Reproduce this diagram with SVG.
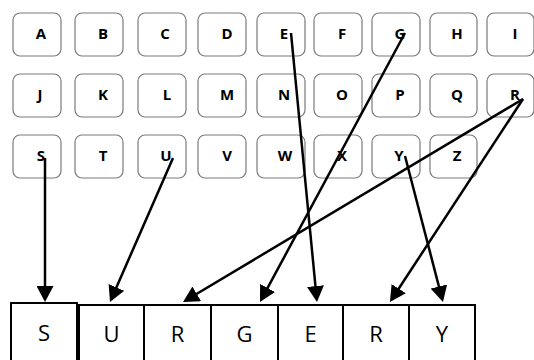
<svg xmlns="http://www.w3.org/2000/svg" width="534" height="360" viewBox="0 0 534 360">
  <style>
    .key rect { fill: #ffffff; stroke: #7a7a7a; stroke-width: 1.2; }
    .key text { font-family: "Open Sans", "DejaVu Sans", sans-serif; font-weight: bold; font-size: 15px; fill: #000000; text-anchor: middle; }
    .cell rect { fill: #ffffff; stroke: #000000; stroke-width: 2; }
    .cell text { font-family: "Open Sans", "DejaVu Sans", sans-serif; font-size: 22px; fill: #000000; text-anchor: middle; }
    .links line { stroke: #000000; stroke-width: 2.5; marker-end: url(#head); }
  </style>
  <defs>
    <marker id="head" markerUnits="userSpaceOnUse" markerWidth="17" markerHeight="17" refX="13" refY="8.5" orient="auto">
      <path d="M0,0 L16,8.5 L0,17 z" fill="#000000"/>
    </marker>
  </defs>
  <rect width="534" height="360" fill="#ffffff"/>

  <!-- keyboard: row 1 -->
  <g id="key-A" class="key"><rect x="13" y="13" width="48" height="43" rx="7"/><text x="41" y="39">A</text></g>
  <g id="key-B" class="key"><rect x="75" y="13" width="48" height="43" rx="7"/><text x="103" y="39">B</text></g>
  <g id="key-C" class="key"><rect x="138" y="13" width="48" height="43" rx="7"/><text x="165" y="39">C</text></g>
  <g id="key-D" class="key"><rect x="198" y="13" width="48" height="43" rx="7"/><text x="227" y="39">D</text></g>
  <g id="key-E" class="key"><rect x="257" y="13" width="48" height="43" rx="7"/><text x="284" y="39">E</text></g>
  <g id="key-F" class="key"><rect x="314" y="13" width="48" height="43" rx="7"/><text x="342" y="39">F</text></g>
  <g id="key-G" class="key"><rect x="372" y="13" width="48" height="43" rx="7"/><text x="400" y="39">G</text></g>
  <g id="key-H" class="key"><rect x="430" y="13" width="47" height="43" rx="7"/><text x="457" y="39">H</text></g>
  <g id="key-I" class="key"><rect x="487" y="13" width="47" height="43" rx="7"/><text x="515" y="39">I</text></g>

  <!-- keyboard: row 2 -->
  <g id="key-J" class="key"><rect x="13" y="74" width="48" height="43" rx="7"/><text x="40" y="100">J</text></g>
  <g id="key-K" class="key"><rect x="75" y="74" width="48" height="43" rx="7"/><text x="103" y="100">K</text></g>
  <g id="key-L" class="key"><rect x="138" y="74" width="48" height="43" rx="7"/><text x="167" y="100">L</text></g>
  <g id="key-M" class="key"><rect x="198" y="74" width="48" height="43" rx="7"/><text x="227" y="100">M</text></g>
  <g id="key-N" class="key"><rect x="257" y="74" width="48" height="43" rx="7"/><text x="284" y="100">N</text></g>
  <g id="key-O" class="key"><rect x="314" y="74" width="48" height="43" rx="7"/><text x="342" y="100">O</text></g>
  <g id="key-P" class="key"><rect x="372" y="74" width="48" height="43" rx="7"/><text x="400" y="100">P</text></g>
  <g id="key-Q" class="key"><rect x="430" y="74" width="47" height="43" rx="7"/><text x="457" y="100">Q</text></g>
  <g id="key-R" class="key"><rect x="487" y="74" width="47" height="43" rx="7"/><text x="515" y="100">R</text></g>

  <!-- keyboard: row 3 -->
  <g id="key-S" class="key"><rect x="13" y="135" width="48" height="43" rx="7"/><text x="41" y="161">S</text></g>
  <g id="key-T" class="key"><rect x="75" y="135" width="48" height="43" rx="7"/><text x="103" y="161">T</text></g>
  <g id="key-U" class="key"><rect x="138" y="135" width="48" height="43" rx="7"/><text x="166" y="161">U</text></g>
  <g id="key-V" class="key"><rect x="198" y="135" width="48" height="43" rx="7"/><text x="227" y="161">V</text></g>
  <g id="key-W" class="key"><rect x="257" y="135" width="48" height="43" rx="7"/><text x="285" y="161">W</text></g>
  <g id="key-X" class="key"><rect x="314" y="135" width="48" height="43" rx="7"/><text x="342" y="161">X</text></g>
  <g id="key-Y" class="key"><rect x="372" y="135" width="48" height="43" rx="7"/><text x="399" y="161">Y</text></g>
  <g id="key-Z" class="key"><rect x="430" y="135" width="47" height="43" rx="7"/><text x="457" y="161">Z</text></g>

  <!-- spelled word -->
  <g id="cell-S" class="cell"><rect x="11" y="303" width="66" height="62"/><text x="44" y="341">S</text></g>
  <g id="cell-U" class="cell"><rect x="79" y="305" width="65" height="60"/><text x="111.5" y="342">U</text></g>
  <g id="cell-R1" class="cell"><rect x="144" y="305" width="67" height="60"/><text x="177.5" y="342">R</text></g>
  <g id="cell-G" class="cell"><rect x="211" y="305" width="67" height="60"/><text x="244.5" y="342">G</text></g>
  <g id="cell-E" class="cell"><rect x="278" y="305" width="65" height="60"/><text x="310.5" y="342">E</text></g>
  <g id="cell-R2" class="cell"><rect x="343" y="305" width="66" height="60"/><text x="376" y="342">R</text></g>
  <g id="cell-Y" class="cell"><rect x="409" y="305" width="66" height="60"/><text x="442" y="342">Y</text></g>

  <!-- connectors: key to letter position -->
  <g id="connectors" class="links">
    <line x1="45" y1="158" x2="45" y2="299"/>
    <line x1="173" y1="158" x2="111.2" y2="299.3"/>
    <line x1="523" y1="99" x2="185.6" y2="300.5"/>
    <line x1="405" y1="33" x2="261.4" y2="299.4"/>
    <line x1="291" y1="33" x2="316.7" y2="299"/>
    <line x1="523" y1="99" x2="391.6" y2="299.5"/>
    <line x1="405" y1="156" x2="442.2" y2="299.1"/>
  </g>
</svg>
